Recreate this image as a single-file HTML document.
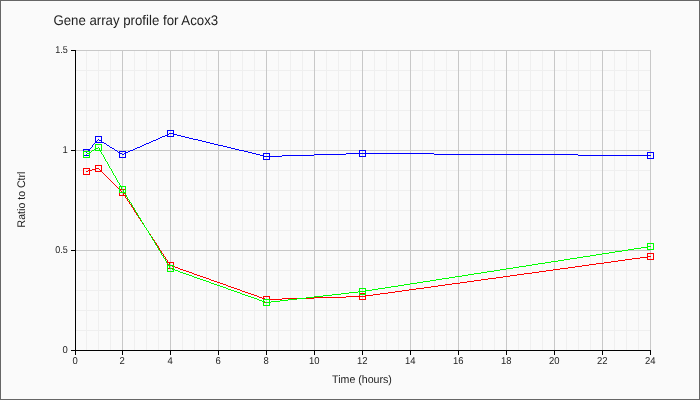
<!DOCTYPE html>
<html><head><meta charset="utf-8"><style>
html,body{margin:0;padding:0;width:700px;height:400px;overflow:hidden;background:#fafafa}
svg{display:block;will-change:transform}
text{font-family:"Liberation Sans",sans-serif;text-rendering:geometricPrecision}
</style></head><body><svg width="700" height="400" viewBox="0 0 700 400"><g shape-rendering="crispEdges"><rect x="0" y="0" width="700" height="400" fill="#fafafa"/><rect x="0.5" y="0.5" width="699" height="399" fill="none" stroke="#666666" stroke-width="1"/><path d="M86.5 50V350M98.5 50V350M110.5 50V350M134.5 50V350M146.5 50V350M158.5 50V350M182.5 50V350M194.5 50V350M206.5 50V350M230.5 50V350M242.5 50V350M254.5 50V350M278.5 50V350M290.5 50V350M302.5 50V350M326.5 50V350M338.5 50V350M350.5 50V350M374.5 50V350M386.5 50V350M398.5 50V350M422.5 50V350M434.5 50V350M446.5 50V350M470.5 50V350M482.5 50V350M494.5 50V350M518.5 50V350M530.5 50V350M542.5 50V350M566.5 50V350M578.5 50V350M590.5 50V350M614.5 50V350M626.5 50V350M638.5 50V350M75 330.5H651M75 310.5H651M75 290.5H651M75 270.5H651M75 230.5H651M75 210.5H651M75 190.5H651M75 170.5H651M75 130.5H651M75 110.5H651M75 90.5H651M75 70.5H651" stroke="#efefef" stroke-width="1" fill="none"/><path d="M122.5 50V350M170.5 50V350M218.5 50V350M266.5 50V350M314.5 50V350M362.5 50V350M410.5 50V350M458.5 50V350M506.5 50V350M554.5 50V350M602.5 50V350M650.5 50V350M75 250.5H651M75 150.5H651M75 50.5H651" stroke="#c8c8c8" stroke-width="1" fill="none"/><path d="M75.5 50V351M75 350.5H651M71 350.5H75M71 250.5H75M71 150.5H75M71 50.5H75M75.5 351V355M122.5 351V355M170.5 351V355M218.5 351V355M266.5 351V355M314.5 351V355M362.5 351V355M410.5 351V355M458.5 351V355M506.5 351V355M554.5 351V355M602.5 351V355M650.5 351V355" stroke="#000" stroke-width="1" fill="none"/><path d="M167 130h7v1h-7zM167 131h1v1h-1zM173 131h1v1h-1zM167 132h1v1h-1zM173 132h1v1h-1zM167 133h1v1h-1zM169 133h5v1h-5zM167 134h2v1h-2zM173 134h4v1h-4zM165 135h3v1h-3zM173 135h1v1h-1zM177 135h4v1h-4zM95 136h7v1h-7zM162 136h3v1h-3zM167 136h7v1h-7zM181 136h4v1h-4zM95 137h1v1h-1zM101 137h1v1h-1zM160 137h2v1h-2zM185 137h4v1h-4zM95 138h1v1h-1zM101 138h1v1h-1zM158 138h2v1h-2zM189 138h4v1h-4zM95 139h1v1h-1zM98 139h1v1h-1zM101 139h1v1h-1zM156 139h2v1h-2zM193 139h5v1h-5zM95 140h1v1h-1zM97 140h1v1h-1zM99 140h3v1h-3zM153 140h3v1h-3zM198 140h4v1h-4zM95 141h2v1h-2zM101 141h1v1h-1zM151 141h2v1h-2zM202 141h4v1h-4zM95 142h9v1h-9zM149 142h2v1h-2zM206 142h4v1h-4zM94 143h1v1h-1zM104 143h2v1h-2zM146 143h3v1h-3zM210 143h4v1h-4zM93 144h1v1h-1zM106 144h1v1h-1zM144 144h2v1h-2zM214 144h4v1h-4zM92 145h1v1h-1zM107 145h2v1h-2zM142 145h2v1h-2zM218 145h5v1h-5zM92 146h1v1h-1zM109 146h1v1h-1zM140 146h2v1h-2zM223 146h4v1h-4zM91 147h1v1h-1zM110 147h2v1h-2zM137 147h3v1h-3zM227 147h4v1h-4zM90 148h1v1h-1zM112 148h2v1h-2zM135 148h2v1h-2zM231 148h4v1h-4zM83 149h7v1h-7zM114 149h1v1h-1zM133 149h2v1h-2zM235 149h4v1h-4zM83 150h1v1h-1zM88 150h2v1h-2zM115 150h2v1h-2zM130 150h3v1h-3zM239 150h5v1h-5zM359 150h7v1h-7zM83 151h1v1h-1zM87 151h1v1h-1zM89 151h1v1h-1zM117 151h1v1h-1zM119 151h7v1h-7zM128 151h2v1h-2zM244 151h4v1h-4zM359 151h1v1h-1zM365 151h1v1h-1zM83 152h1v1h-1zM86 152h1v1h-1zM89 152h1v1h-1zM118 152h2v1h-2zM125 152h3v1h-3zM248 152h4v1h-4zM359 152h1v1h-1zM365 152h1v1h-1zM647 152h7v1h-7zM83 153h1v1h-1zM89 153h1v1h-1zM119 153h3v1h-3zM124 153h2v1h-2zM252 153h4v1h-4zM263 153h7v1h-7zM346 153h88v1h-88zM647 153h1v1h-1zM653 153h1v1h-1zM83 154h1v1h-1zM89 154h1v1h-1zM119 154h1v1h-1zM122 154h2v1h-2zM125 154h1v1h-1zM256 154h4v1h-4zM263 154h1v1h-1zM269 154h1v1h-1zM314 154h32v1h-32zM359 154h1v1h-1zM365 154h1v1h-1zM434 154h144v1h-144zM647 154h1v1h-1zM653 154h1v1h-1zM83 155h7v1h-7zM119 155h1v1h-1zM125 155h1v1h-1zM260 155h4v1h-4zM269 155h1v1h-1zM282 155h32v1h-32zM359 155h1v1h-1zM365 155h1v1h-1zM578 155h73v1h-73zM653 155h1v1h-1zM119 156h1v1h-1zM125 156h1v1h-1zM263 156h19v1h-19zM359 156h7v1h-7zM647 156h1v1h-1zM653 156h1v1h-1zM119 157h7v1h-7zM263 157h1v1h-1zM269 157h1v1h-1zM647 157h1v1h-1zM653 157h1v1h-1zM263 158h1v1h-1zM269 158h1v1h-1zM647 158h7v1h-7zM263 159h7v1h-7z" fill="#0000ff"/><path d="M95 165h7v1h-7zM95 166h1v1h-1zM101 166h1v1h-1zM95 167h1v1h-1zM101 167h1v1h-1zM83 168h7v1h-7zM95 168h4v1h-4zM101 168h1v1h-1zM83 169h1v1h-1zM89 169h1v1h-1zM92 169h4v1h-4zM99 169h1v1h-1zM101 169h1v1h-1zM83 170h1v1h-1zM88 170h4v1h-4zM95 170h1v1h-1zM100 170h2v1h-2zM83 171h1v1h-1zM86 171h2v1h-2zM89 171h1v1h-1zM95 171h7v1h-7zM83 172h1v1h-1zM89 172h1v1h-1zM102 172h1v1h-1zM83 173h1v1h-1zM89 173h1v1h-1zM103 173h1v1h-1zM83 174h7v1h-7zM104 174h1v1h-1zM105 175h1v1h-1zM106 176h1v1h-1zM107 177h1v1h-1zM108 178h1v1h-1zM109 179h1v1h-1zM110 180h1v1h-1zM111 181h1v1h-1zM112 182h1v1h-1zM113 183h1v1h-1zM114 184h1v1h-1zM115 185h1v1h-1zM116 186h1v1h-1zM117 187h1v1h-1zM118 188h1v1h-1zM119 189h7v1h-7zM119 190h2v1h-2zM125 190h1v1h-1zM119 191h1v1h-1zM121 191h1v1h-1zM125 191h1v1h-1zM119 192h1v1h-1zM122 192h1v1h-1zM125 192h1v1h-1zM119 193h1v1h-1zM123 193h1v1h-1zM125 193h1v1h-1zM119 194h1v1h-1zM123 194h1v1h-1zM125 194h1v1h-1zM119 195h7v1h-7zM125 196h1v1h-1zM125 197h1v1h-1zM126 198h1v1h-1zM127 199h1v1h-1zM127 200h1v1h-1zM128 201h1v1h-1zM129 202h1v1h-1zM129 203h1v1h-1zM130 204h1v1h-1zM131 205h1v1h-1zM131 206h1v1h-1zM132 207h1v1h-1zM133 208h1v1h-1zM133 209h1v1h-1zM134 210h1v1h-1zM134 211h1v1h-1zM135 212h1v1h-1zM136 213h1v1h-1zM136 214h1v1h-1zM137 215h1v1h-1zM138 216h1v1h-1zM138 217h1v1h-1zM139 218h1v1h-1zM140 219h1v1h-1zM140 220h1v1h-1zM141 221h1v1h-1zM142 222h1v1h-1zM142 223h1v1h-1zM143 224h1v1h-1zM144 225h1v1h-1zM144 226h1v1h-1zM145 227h1v1h-1zM146 228h1v1h-1zM146 229h1v1h-1zM147 230h1v1h-1zM148 231h1v1h-1zM148 232h1v1h-1zM149 233h1v1h-1zM150 234h1v1h-1zM150 235h1v1h-1zM151 236h1v1h-1zM152 237h1v1h-1zM152 238h1v1h-1zM153 239h1v1h-1zM154 240h1v1h-1zM154 241h1v1h-1zM155 242h1v1h-1zM156 243h1v1h-1zM156 244h1v1h-1zM157 245h1v1h-1zM158 246h1v1h-1zM158 247h1v1h-1zM159 248h1v1h-1zM159 249h1v1h-1zM160 250h1v1h-1zM161 251h1v1h-1zM161 252h1v1h-1zM162 253h1v1h-1zM647 253h7v1h-7zM163 254h1v1h-1zM647 254h1v1h-1zM653 254h1v1h-1zM163 255h1v1h-1zM647 255h1v1h-1zM653 255h1v1h-1zM164 256h1v1h-1zM647 256h4v1h-4zM653 256h1v1h-1zM165 257h1v1h-1zM640 257h8v1h-8zM653 257h1v1h-1zM165 258h1v1h-1zM632 258h8v1h-8zM647 258h1v1h-1zM653 258h1v1h-1zM166 259h1v1h-1zM625 259h7v1h-7zM647 259h7v1h-7zM167 260h1v1h-1zM618 260h7v1h-7zM167 261h1v1h-1zM611 261h7v1h-7zM167 262h7v1h-7zM604 262h7v1h-7zM167 263h1v1h-1zM169 263h1v1h-1zM173 263h1v1h-1zM596 263h8v1h-8zM167 264h1v1h-1zM169 264h1v1h-1zM173 264h1v1h-1zM589 264h7v1h-7zM167 265h1v1h-1zM170 265h2v1h-2zM173 265h1v1h-1zM582 265h7v1h-7zM167 266h1v1h-1zM172 266h3v1h-3zM575 266h7v1h-7zM167 267h1v1h-1zM173 267h1v1h-1zM175 267h3v1h-3zM568 267h7v1h-7zM167 268h7v1h-7zM178 268h2v1h-2zM560 268h8v1h-8zM180 269h3v1h-3zM553 269h7v1h-7zM183 270h3v1h-3zM546 270h7v1h-7zM186 271h3v1h-3zM539 271h7v1h-7zM189 272h3v1h-3zM532 272h7v1h-7zM192 273h2v1h-2zM524 273h8v1h-8zM194 274h3v1h-3zM517 274h7v1h-7zM197 275h3v1h-3zM510 275h7v1h-7zM200 276h3v1h-3zM503 276h7v1h-7zM203 277h3v1h-3zM496 277h7v1h-7zM206 278h3v1h-3zM488 278h8v1h-8zM209 279h2v1h-2zM481 279h7v1h-7zM211 280h3v1h-3zM474 280h7v1h-7zM214 281h3v1h-3zM467 281h7v1h-7zM217 282h3v1h-3zM460 282h7v1h-7zM220 283h3v1h-3zM452 283h8v1h-8zM223 284h3v1h-3zM445 284h7v1h-7zM226 285h2v1h-2zM438 285h7v1h-7zM228 286h3v1h-3zM431 286h7v1h-7zM231 287h3v1h-3zM424 287h7v1h-7zM234 288h3v1h-3zM416 288h8v1h-8zM237 289h3v1h-3zM409 289h7v1h-7zM240 290h2v1h-2zM402 290h7v1h-7zM242 291h3v1h-3zM395 291h7v1h-7zM245 292h3v1h-3zM388 292h7v1h-7zM248 293h3v1h-3zM359 293h7v1h-7zM380 293h8v1h-8zM251 294h3v1h-3zM359 294h1v1h-1zM365 294h1v1h-1zM373 294h7v1h-7zM254 295h3v1h-3zM359 295h1v1h-1zM365 295h8v1h-8zM257 296h2v1h-2zM263 296h7v1h-7zM346 296h20v1h-20zM259 297h3v1h-3zM263 297h1v1h-1zM269 297h1v1h-1zM314 297h32v1h-32zM359 297h1v1h-1zM365 297h1v1h-1zM262 298h3v1h-3zM269 298h1v1h-1zM282 298h32v1h-32zM359 298h1v1h-1zM365 298h1v1h-1zM263 299h1v1h-1zM265 299h17v1h-17zM359 299h7v1h-7zM263 300h1v1h-1zM269 300h1v1h-1zM263 301h1v1h-1zM269 301h1v1h-1zM263 302h7v1h-7z" fill="#ff0000"/><path d="M95 144h7v1h-7zM95 145h1v1h-1zM101 145h1v1h-1zM95 146h1v1h-1zM101 146h1v1h-1zM95 147h1v1h-1zM98 147h1v1h-1zM101 147h1v1h-1zM95 148h3v1h-3zM99 148h1v1h-1zM101 148h1v1h-1zM94 149h2v1h-2zM99 149h1v1h-1zM101 149h1v1h-1zM92 150h2v1h-2zM95 150h7v1h-7zM83 151h7v1h-7zM91 151h1v1h-1zM100 151h1v1h-1zM83 152h1v1h-1zM89 152h2v1h-2zM101 152h1v1h-1zM83 153h1v1h-1zM87 153h3v1h-3zM101 153h1v1h-1zM83 154h1v1h-1zM86 154h1v1h-1zM89 154h1v1h-1zM102 154h1v1h-1zM83 155h1v1h-1zM89 155h1v1h-1zM103 155h1v1h-1zM83 156h1v1h-1zM89 156h1v1h-1zM103 156h1v1h-1zM83 157h7v1h-7zM104 157h1v1h-1zM104 158h1v1h-1zM105 159h1v1h-1zM105 160h1v1h-1zM106 161h1v1h-1zM107 162h1v1h-1zM107 163h1v1h-1zM108 164h1v1h-1zM108 165h1v1h-1zM109 166h1v1h-1zM109 167h1v1h-1zM110 168h1v1h-1zM111 169h1v1h-1zM111 170h1v1h-1zM112 171h1v1h-1zM112 172h1v1h-1zM113 173h1v1h-1zM113 174h1v1h-1zM114 175h1v1h-1zM115 176h1v1h-1zM115 177h1v1h-1zM116 178h1v1h-1zM116 179h1v1h-1zM117 180h1v1h-1zM117 181h1v1h-1zM118 182h1v1h-1zM119 183h1v1h-1zM119 184h1v1h-1zM120 185h1v1h-1zM119 186h7v1h-7zM119 187h1v1h-1zM121 187h1v1h-1zM125 187h1v1h-1zM119 188h1v1h-1zM121 188h1v1h-1zM125 188h1v1h-1zM119 189h1v1h-1zM122 189h1v1h-1zM125 189h1v1h-1zM119 190h1v1h-1zM123 190h1v1h-1zM125 190h1v1h-1zM119 191h1v1h-1zM123 191h1v1h-1zM125 191h1v1h-1zM119 192h7v1h-7zM124 193h1v1h-1zM125 194h1v1h-1zM126 195h1v1h-1zM126 196h1v1h-1zM127 197h1v1h-1zM127 198h1v1h-1zM128 199h1v1h-1zM129 200h1v1h-1zM129 201h1v1h-1zM130 202h1v1h-1zM131 203h1v1h-1zM131 204h1v1h-1zM132 205h1v1h-1zM132 206h1v1h-1zM133 207h1v1h-1zM134 208h1v1h-1zM134 209h1v1h-1zM135 210h1v1h-1zM135 211h1v1h-1zM136 212h1v1h-1zM137 213h1v1h-1zM137 214h1v1h-1zM138 215h1v1h-1zM138 216h1v1h-1zM139 217h1v1h-1zM140 218h1v1h-1zM140 219h1v1h-1zM141 220h1v1h-1zM141 221h1v1h-1zM142 222h1v1h-1zM143 223h1v1h-1zM143 224h1v1h-1zM144 225h1v1h-1zM144 226h1v1h-1zM145 227h1v1h-1zM146 228h1v1h-1zM146 229h1v1h-1zM147 230h1v1h-1zM148 231h1v1h-1zM148 232h1v1h-1zM149 233h1v1h-1zM149 234h1v1h-1zM150 235h1v1h-1zM151 236h1v1h-1zM151 237h1v1h-1zM152 238h1v1h-1zM152 239h1v1h-1zM153 240h1v1h-1zM154 241h1v1h-1zM154 242h1v1h-1zM155 243h1v1h-1zM647 243h7v1h-7zM155 244h1v1h-1zM647 244h1v1h-1zM653 244h1v1h-1zM156 245h1v1h-1zM647 245h1v1h-1zM653 245h1v1h-1zM157 246h1v1h-1zM647 246h4v1h-4zM653 246h1v1h-1zM157 247h1v1h-1zM641 247h7v1h-7zM653 247h1v1h-1zM158 248h1v1h-1zM634 248h7v1h-7zM647 248h1v1h-1zM653 248h1v1h-1zM158 249h1v1h-1zM628 249h6v1h-6zM647 249h7v1h-7zM159 250h1v1h-1zM622 250h6v1h-6zM160 251h1v1h-1zM615 251h7v1h-7zM160 252h1v1h-1zM609 252h6v1h-6zM161 253h1v1h-1zM602 253h7v1h-7zM161 254h1v1h-1zM596 254h6v1h-6zM162 255h1v1h-1zM590 255h6v1h-6zM163 256h1v1h-1zM583 256h7v1h-7zM163 257h1v1h-1zM577 257h6v1h-6zM164 258h1v1h-1zM570 258h7v1h-7zM165 259h1v1h-1zM564 259h6v1h-6zM165 260h1v1h-1zM558 260h6v1h-6zM166 261h1v1h-1zM551 261h7v1h-7zM166 262h1v1h-1zM545 262h6v1h-6zM167 263h1v1h-1zM538 263h7v1h-7zM168 264h1v1h-1zM532 264h6v1h-6zM167 265h7v1h-7zM526 265h6v1h-6zM167 266h1v1h-1zM169 266h1v1h-1zM173 266h1v1h-1zM519 266h7v1h-7zM167 267h1v1h-1zM169 267h1v1h-1zM173 267h1v1h-1zM513 267h6v1h-6zM167 268h1v1h-1zM170 268h2v1h-2zM173 268h1v1h-1zM506 268h7v1h-7zM167 269h1v1h-1zM172 269h3v1h-3zM500 269h6v1h-6zM167 270h1v1h-1zM173 270h1v1h-1zM175 270h3v1h-3zM494 270h6v1h-6zM167 271h7v1h-7zM178 271h2v1h-2zM487 271h7v1h-7zM180 272h3v1h-3zM481 272h6v1h-6zM183 273h3v1h-3zM474 273h7v1h-7zM186 274h3v1h-3zM468 274h6v1h-6zM189 275h3v1h-3zM462 275h6v1h-6zM192 276h2v1h-2zM455 276h7v1h-7zM194 277h3v1h-3zM449 277h6v1h-6zM197 278h3v1h-3zM442 278h7v1h-7zM200 279h3v1h-3zM436 279h6v1h-6zM203 280h3v1h-3zM430 280h6v1h-6zM206 281h3v1h-3zM423 281h7v1h-7zM209 282h2v1h-2zM417 282h6v1h-6zM211 283h3v1h-3zM410 283h7v1h-7zM214 284h3v1h-3zM404 284h6v1h-6zM217 285h3v1h-3zM398 285h6v1h-6zM220 286h3v1h-3zM391 286h7v1h-7zM223 287h3v1h-3zM385 287h6v1h-6zM226 288h2v1h-2zM359 288h7v1h-7zM378 288h7v1h-7zM228 289h3v1h-3zM359 289h1v1h-1zM365 289h1v1h-1zM372 289h6v1h-6zM231 290h3v1h-3zM359 290h1v1h-1zM365 290h7v1h-7zM234 291h3v1h-3zM358 291h8v1h-8zM237 292h3v1h-3zM349 292h9v1h-9zM359 292h1v1h-1zM365 292h1v1h-1zM240 293h2v1h-2zM341 293h8v1h-8zM359 293h1v1h-1zM365 293h1v1h-1zM242 294h3v1h-3zM332 294h9v1h-9zM359 294h7v1h-7zM245 295h3v1h-3zM323 295h9v1h-9zM248 296h3v1h-3zM314 296h9v1h-9zM251 297h3v1h-3zM306 297h8v1h-8zM254 298h3v1h-3zM297 298h9v1h-9zM257 299h2v1h-2zM263 299h7v1h-7zM288 299h9v1h-9zM259 300h3v1h-3zM263 300h1v1h-1zM269 300h1v1h-1zM280 300h8v1h-8zM262 301h3v1h-3zM269 301h1v1h-1zM271 301h9v1h-9zM263 302h1v1h-1zM265 302h6v1h-6zM263 303h1v1h-1zM269 303h1v1h-1zM263 304h1v1h-1zM269 304h1v1h-1zM263 305h7v1h-7z" fill="#00ff00"/></g><g font-family="Liberation Sans, sans-serif"><text x="53.4" y="25" font-size="14" text-anchor="start" textLength="164.72" lengthAdjust="spacingAndGlyphs" fill="#222">Gene array profile for Acox3</text><text x="67.7" y="353" font-size="10" text-anchor="end" textLength="5.26" lengthAdjust="spacingAndGlyphs" fill="#222">0</text><text x="67.7" y="253" font-size="10" text-anchor="end" textLength="12.51" lengthAdjust="spacingAndGlyphs" fill="#222">0.5</text><text x="67.7" y="153" font-size="10" text-anchor="end" textLength="5.26" lengthAdjust="spacingAndGlyphs" fill="#222">1</text><text x="67.7" y="53" font-size="10" text-anchor="end" textLength="12.51" lengthAdjust="spacingAndGlyphs" fill="#222">1.5</text><text x="75.2" y="364" font-size="10" text-anchor="middle" textLength="5.26" lengthAdjust="spacingAndGlyphs" fill="#222">0</text><text x="122.2" y="364" font-size="10" text-anchor="middle" textLength="5.26" lengthAdjust="spacingAndGlyphs" fill="#222">2</text><text x="170.2" y="364" font-size="10" text-anchor="middle" textLength="5.26" lengthAdjust="spacingAndGlyphs" fill="#222">4</text><text x="218.2" y="364" font-size="10" text-anchor="middle" textLength="5.26" lengthAdjust="spacingAndGlyphs" fill="#222">6</text><text x="266.2" y="364" font-size="10" text-anchor="middle" textLength="5.26" lengthAdjust="spacingAndGlyphs" fill="#222">8</text><text x="314.2" y="364" font-size="10" text-anchor="middle" textLength="10.51" lengthAdjust="spacingAndGlyphs" fill="#222">10</text><text x="362.2" y="364" font-size="10" text-anchor="middle" textLength="10.51" lengthAdjust="spacingAndGlyphs" fill="#222">12</text><text x="410.2" y="364" font-size="10" text-anchor="middle" textLength="10.51" lengthAdjust="spacingAndGlyphs" fill="#222">14</text><text x="458.2" y="364" font-size="10" text-anchor="middle" textLength="10.51" lengthAdjust="spacingAndGlyphs" fill="#222">16</text><text x="506.2" y="364" font-size="10" text-anchor="middle" textLength="10.51" lengthAdjust="spacingAndGlyphs" fill="#222">18</text><text x="554.2" y="364" font-size="10" text-anchor="middle" textLength="10.51" lengthAdjust="spacingAndGlyphs" fill="#222">20</text><text x="602.2" y="364" font-size="10" text-anchor="middle" textLength="10.51" lengthAdjust="spacingAndGlyphs" fill="#222">22</text><text x="650.2" y="364" font-size="10" text-anchor="middle" textLength="10.51" lengthAdjust="spacingAndGlyphs" fill="#222">24</text><text x="362" y="383" font-size="11" text-anchor="middle" textLength="59.77" lengthAdjust="spacingAndGlyphs" fill="#222">Time (hours)</text><text x="0" y="0" font-size="11" text-anchor="middle" textLength="55.75" lengthAdjust="spacingAndGlyphs" fill="#222" transform="translate(25 199.5) rotate(-90)">Ratio to Ctrl</text></g></svg></body></html>
